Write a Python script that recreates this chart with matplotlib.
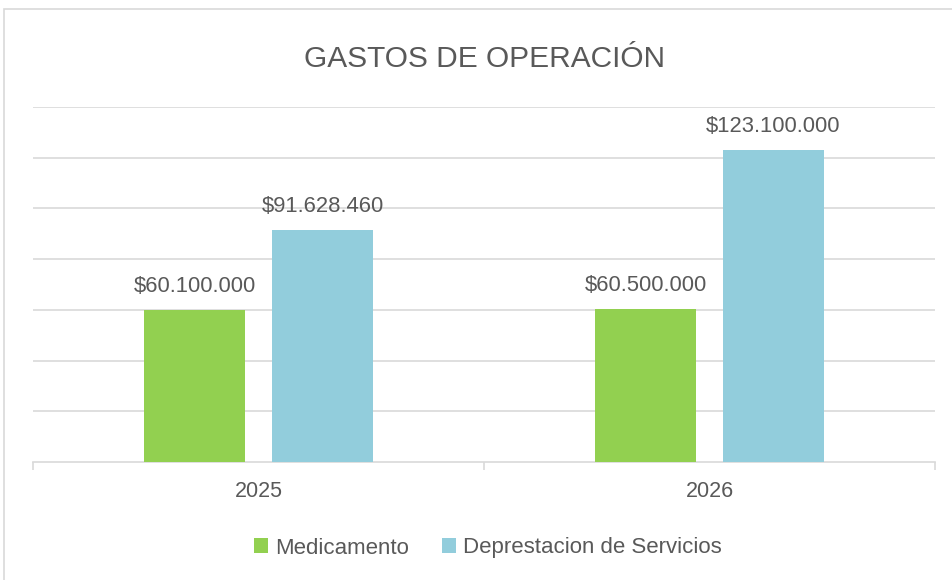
import matplotlib
matplotlib.use("Agg")
import matplotlib.pyplot as plt
import matplotlib.patches as mpatches
import numpy as np

# Data
YEARS = ["2025", "2026"]
SERIES = ["Medicamento", "Deprestacion de Servicios"]
MEDICAMENTO = [60100000, 60500000]
DEPRESTACION = [91628460, 123100000]
COLORS = ["#92D050", "#92CDDC"]

TEXT = "#595959"
GRID = "#D9D9D9"

plt.rcParams["font.family"] = ["Liberation Sans", "DejaVu Sans"]


def money(v):
    return "$" + f"{v:,.0f}".replace(",", ".")


W, H = 952, 580
fig = plt.figure(figsize=(W / 100, H / 100), dpi=100)
ax = fig.add_axes([33 / W, 118 / H, (935 - 33) / W, (462 - 107) / H])

x = np.arange(len(YEARS))
width = 0.224
offset = 0.142
for vals, name, col, dx in [(MEDICAMENTO, SERIES[0], COLORS[0], -offset),
                            (DEPRESTACION, SERIES[1], COLORS[1], offset)]:
    bars = ax.bar(x + dx, vals, width=width, color=col, label=name, zorder=3)
    for b, v in zip(bars, vals):
        ax.annotate(money(v), (b.get_x() + b.get_width() / 2, v),
                    xytext=(0, 13), textcoords="offset points",
                    ha="center", va="baseline", fontsize=15.8, color=TEXT)

ax.set_xlim(-0.5, 1.5)
ax.set_ylim(0, 140e6)
ax.set_yticks(np.arange(20e6, 140e6 + 1, 20e6))
ax.yaxis.grid(True, color=GRID, lw=1.2, zorder=0)
ax.tick_params(axis="y", left=False, labelleft=False)

ax.set_xticks(x)
ax.set_xticklabels(YEARS, fontsize=15.5, color=TEXT)
ax.tick_params(axis="x", which="major", length=0, pad=14)
ax.set_xticks([-0.5, 0.5, 1.5], minor=True)
ax.tick_params(axis="x", which="minor", length=6, width=1.2, color=GRID)

for s in ["top", "right", "left"]:
    ax.spines[s].set_visible(False)
ax.spines["bottom"].set_color(GRID)
ax.spines["bottom"].set_linewidth(1.2)

fig.text(484 / W, 1 - 67 / H, "GASTOS DE OPERACIÓN", ha="center",
         va="baseline", fontsize=21.5, color=TEXT)

leg = ax.legend(loc="center", bbox_to_anchor=(488 / W, 1 - 548 / H),
                bbox_transform=fig.transFigure, ncol=2, frameon=False,
                fontsize=16, handlelength=0.62, handleheight=0.62,
                handletextpad=0.32, columnspacing=1.5, labelcolor=TEXT)

border = mpatches.Rectangle((3.5 / W, -0.1), 1.2, 1.1 - 8.5 / H,
                            transform=fig.transFigure, fill=False,
                            edgecolor=GRID, lw=1.2)
fig.patches.append(border)

fig.savefig("out.png", dpi=100)
